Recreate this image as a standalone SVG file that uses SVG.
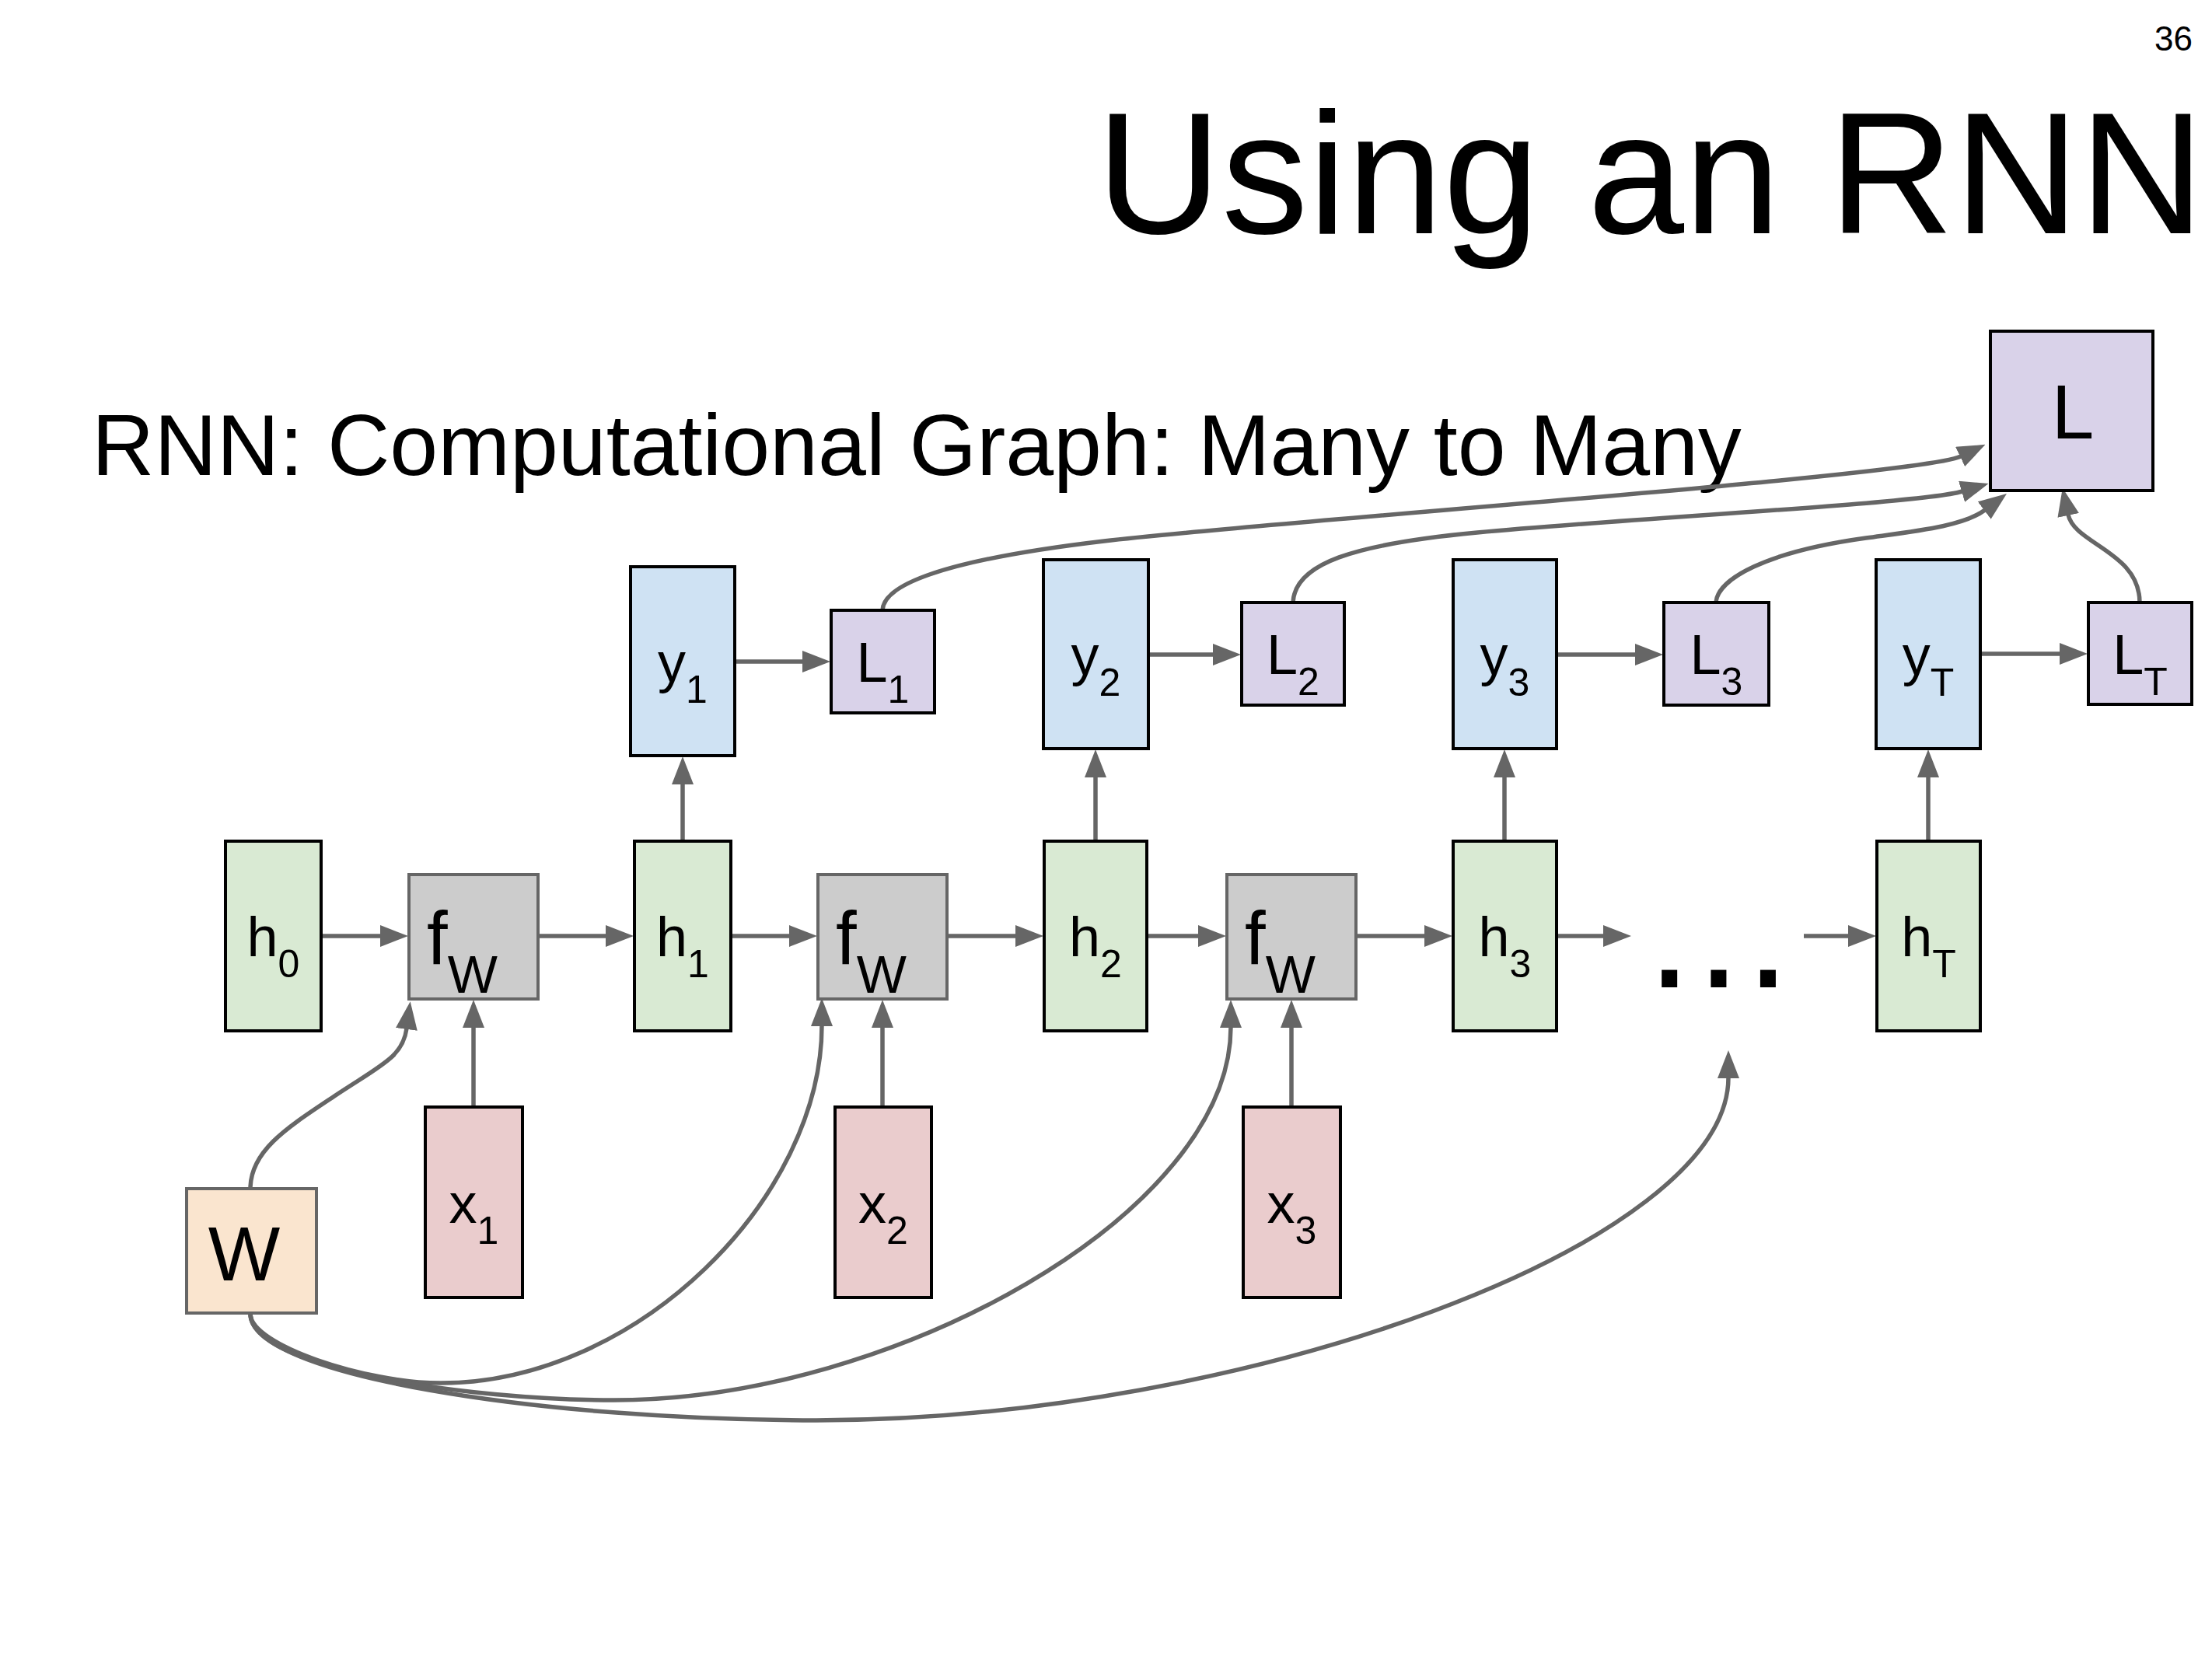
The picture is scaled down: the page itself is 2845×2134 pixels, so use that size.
<svg xmlns="http://www.w3.org/2000/svg" width="2845" height="2134" viewBox="0 0 2845 2134">
  <style>
    text { font-family: "Liberation Sans", Arial, Helvetica, sans-serif; fill: #000; }
    .box { stroke: #000; stroke-width: 4; }
    .h { fill: #d9ead3; }
    .y { fill: #cfe2f3; }
    .loss { fill: #d9d2e9; }
    .x { fill: #eacccd; }
    .f { fill: #cccccc; stroke: #666666; stroke-width: 4; }
    .w { fill: #fae5cf; stroke: #666666; stroke-width: 4; }
    .lbl { font-size: 72px; text-anchor: middle; }
    .sub { font-size: 50px; }
    .fw { font-size: 96px; }
    .fwsub { font-size: 68px; }
    .big { font-size: 98px; text-anchor: middle; }
    .edge { fill: none; stroke: #666666; stroke-width: 5.5; marker-end: url(#ah); }
  </style>
  <defs>
    <marker id="ah" markerUnits="userSpaceOnUse" viewBox="0 0 36 28" markerWidth="36" markerHeight="28" refX="1" refY="14" orient="auto">
      <path d="M0,0 L36,14 L0,28 z" fill="#666666"/>
    </marker>
  </defs>

  <rect x="0" y="0" width="2845" height="2134" fill="#ffffff"/>

  <!-- slide header -->
  <text x="2820" y="65" font-size="44" text-anchor="end">36</text>
  <text x="1410" y="300" font-size="223">Using an RNN</text>
  <text x="118" y="611" font-size="111.3">RNN: Computational Graph: Many to Many</text>

  <!-- connectors -->
  <g id="connectors">
    <!-- hidden state chain -->
    <path class="edge" d="M413,1204 H490"/>
    <path class="edge" d="M692,1204 H780"/>
    <path class="edge" d="M940,1204 H1016"/>
    <path class="edge" d="M1217,1204 H1307"/>
    <path class="edge" d="M1475,1204 H1542"/>
    <path class="edge" d="M1744,1204 H1833"/>
    <path class="edge" d="M2002,1204 H2063"/>
    <path class="edge" d="M2320,1204 H2378"/>
    <!-- inputs into f_W -->
    <path class="edge" d="M609,1424 V1321"/>
    <path class="edge" d="M1135,1424 V1321"/>
    <path class="edge" d="M1661,1424 V1321"/>
    <!-- hidden states to outputs -->
    <path class="edge" d="M878,1082 V1008"/>
    <path class="edge" d="M1409,1082 V999"/>
    <path class="edge" d="M1935,1082 V999"/>
    <path class="edge" d="M2480,1082 V999"/>
    <!-- outputs to per-step losses -->
    <path class="edge" d="M945,851 H1033"/>
    <path class="edge" d="M1477,842 H1561"/>
    <path class="edge" d="M2001,842 H2104"/>
    <path class="edge" d="M2547,841 H2650"/>
    <!-- per-step losses to total loss -->
    <path class="edge" d="M1135,785 C1136,755 1200,722 1420,696 C1640,670 2470,612 2522,587"/>
    <path class="edge" d="M1663,775 C1665,725 1740,700 1900,685 C2100,666 2470,648 2524,632"/>
    <path class="edge" d="M2207,775 C2209,745 2270,710 2400,692 C2465,683 2525,677 2553,656"/>
    <path class="edge" d="M2752,775 C2752,710 2668,700 2660,662"/>
    <!-- shared weights -->
    <path class="edge" d="M322,1529 C322,1480 370,1450 430,1410 C490,1370 518,1360 523,1323"/>
    <path class="edge" d="M322,1690 C322,1730 470,1779 567,1779 C820,1779 1057,1540 1057,1319"/>
    <path class="edge" d="M322,1690 C322,1760 600,1801 790,1801 C1150,1801 1583,1560 1583,1321"/>
    <path class="edge" d="M322,1690 C322,1770 700,1827 1050,1827 C1600,1827 2223,1600 2223,1386"/>
  </g>

  <!-- hidden states -->
  <g id="h0"><rect class="box h" x="290" y="1082" width="123" height="244"/><text class="lbl" x="351.5" y="1230">h<tspan class="sub" dy="27">0</tspan></text></g>
  <g id="h1"><rect class="box h" x="816" y="1082" width="124" height="244"/><text class="lbl" x="878" y="1230">h<tspan class="sub" dy="27">1</tspan></text></g>
  <g id="h2"><rect class="box h" x="1343" y="1082" width="132" height="244"/><text class="lbl" x="1409" y="1230">h<tspan class="sub" dy="27">2</tspan></text></g>
  <g id="h3"><rect class="box h" x="1869" y="1082" width="133" height="244"/><text class="lbl" x="1935.5" y="1230">h<tspan class="sub" dy="27">3</tspan></text></g>
  <g id="hT"><rect class="box h" x="2414" y="1082" width="133" height="244"/><text class="lbl" x="2480.5" y="1230">h<tspan class="sub" dy="27">T</tspan></text></g>

  <!-- recurrence function -->
  <g id="fW1"><rect class="f" x="526" y="1125" width="166" height="160"/><text class="fw" x="549" y="1240">f<tspan class="fwsub" dy="37">W</tspan></text></g>
  <g id="fW2"><rect class="f" x="1052" y="1125" width="166" height="160"/><text class="fw" x="1075" y="1240">f<tspan class="fwsub" dy="37">W</tspan></text></g>
  <g id="fW3"><rect class="f" x="1578" y="1125" width="166" height="160"/><text class="fw" x="1601" y="1240">f<tspan class="fwsub" dy="37">W</tspan></text></g>

  <!-- continuation -->
  <g id="ellipsis"><text x="2118" y="1270" font-size="210" letter-spacing="5">...</text></g>

  <!-- outputs -->
  <g id="y1"><rect class="box y" x="811" y="729" width="134" height="243"/><text class="lbl" x="878" y="876.5">y<tspan class="sub" dy="27">1</tspan></text></g>
  <g id="y2"><rect class="box y" x="1342" y="720" width="135" height="243"/><text class="lbl" x="1409.5" y="867.5">y<tspan class="sub" dy="27">2</tspan></text></g>
  <g id="y3"><rect class="box y" x="1869" y="720" width="133" height="243"/><text class="lbl" x="1935.5" y="867.5">y<tspan class="sub" dy="27">3</tspan></text></g>
  <g id="yT"><rect class="box y" x="2413" y="720" width="134" height="243"/><text class="lbl" x="2480" y="867.5">y<tspan class="sub" dy="27">T</tspan></text></g>

  <!-- per-step losses -->
  <g id="L1"><rect class="box loss" x="1069" y="785" width="133" height="132"/><text class="lbl" x="1135.5" y="877">L<tspan class="sub" dy="27">1</tspan></text></g>
  <g id="L2"><rect class="box loss" x="1597" y="775" width="132" height="132"/><text class="lbl" x="1663" y="867">L<tspan class="sub" dy="27">2</tspan></text></g>
  <g id="L3"><rect class="box loss" x="2140" y="775" width="135" height="132"/><text class="lbl" x="2207.5" y="867">L<tspan class="sub" dy="27">3</tspan></text></g>
  <g id="LT"><rect class="box loss" x="2686" y="775" width="133" height="131"/><text class="lbl" x="2752.5" y="866.5">L<tspan class="sub" dy="27">T</tspan></text></g>

  <!-- total loss -->
  <g id="L"><rect class="box loss" x="2560" y="426" width="209" height="205"/><text class="big" x="2666" y="564">L</text></g>

  <!-- inputs -->
  <g id="x1"><rect class="box x" x="547" y="1424" width="125" height="245"/><text class="lbl" x="609.5" y="1572.5">x<tspan class="sub" dy="27">1</tspan></text></g>
  <g id="x2"><rect class="box x" x="1074" y="1424" width="124" height="245"/><text class="lbl" x="1136" y="1572.5">x<tspan class="sub" dy="27">2</tspan></text></g>
  <g id="x3"><rect class="box x" x="1599" y="1424" width="125" height="245"/><text class="lbl" x="1661.5" y="1572.5">x<tspan class="sub" dy="27">3</tspan></text></g>

  <!-- shared weights -->
  <g id="W"><rect class="w" x="240" y="1529" width="167" height="160"/><text class="big" x="314" y="1647">W</text></g>
</svg>
